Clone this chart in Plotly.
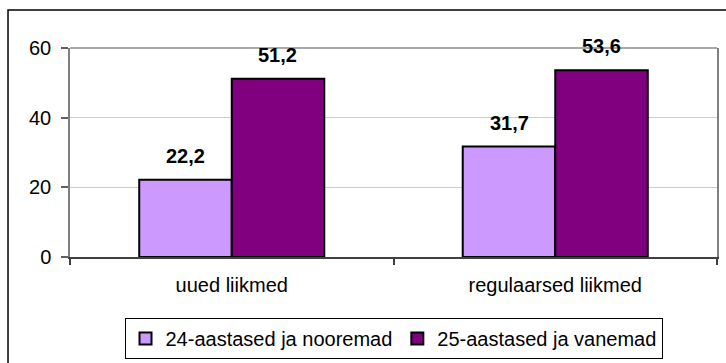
import plotly.graph_objects as go

# Data
categories = ["uued liikmed", "regulaarsed liikmed"]
series_names = ["24-aastased ja nooremad", "25-aastased ja vanemad"]
young_values = [22.2, 31.7]
older_values = [51.2, 53.6]
y_ticks = [0, 20, 40, 60]

colors = ["#CC99FF", "#800080"]
FONT = "Arial, 'Liberation Sans', sans-serif"


def fmt(v):
    return f"{v:.1f}".replace(".", ",")


fig = go.Figure()
for name, vals, col in zip(series_names, [young_values, older_values], colors):
    fig.add_trace(go.Bar(
        x=categories, y=vals, name=name,
        marker=dict(color=col, line=dict(color="black", width=2)),
    ))

# Value labels above each bar
bar_px = 92
for shift, vals in zip([-bar_px / 2, bar_px / 2], [young_values, older_values]):
    for cat, v in zip(categories, vals):
        fig.add_annotation(
            x=cat, y=v, xref="x", yref="y", text=f"<b>{fmt(v)}</b>",
            showarrow=False, xshift=shift, yshift=11, yanchor="bottom",
            font=dict(family=FONT, size=20, color="black"),
        )

# Plot area top border
fig.add_shape(type="line", xref="paper", yref="paper", x0=0, x1=1, y0=1, y1=1,
              line=dict(color="#8c8c8c", width=1.5))
# Outer chart frame
fig.add_shape(type="rect", xref="paper", yref="paper",
              x0=-0.0958, x1=1.2, y0=-0.8, y1=1.1818,
              line=dict(color="black", width=1.5), layer="below")

fig.update_layout(
    width=726, height=363,
    margin=dict(l=70, r=9, t=48, b=106, autoexpand=False),
    paper_bgcolor="white", plot_bgcolor="white",
    barmode="group", bargap=0.428, bargroupgap=0,
    font=dict(family=FONT, size=20, color="black"),
    showlegend=True,
    legend=dict(
        orientation="h", x=0.5, xanchor="center", y=-0.488, yanchor="bottom",
        bordercolor="black", borderwidth=1, bgcolor="white",
        font=dict(family=FONT, size=20, color="black"),
        itemwidth=30, tracegroupgap=0,
    ),
    xaxis=dict(
        automargin=False,
        showline=True, linecolor="#404040", linewidth=2,
        ticks="outside", ticklen=6, tickcolor="#404040", tickwidth=1.5,
        tickson="boundaries", ticklabelstandoff=9,
        showgrid=False,
    ),
    yaxis=dict(
        automargin=False,
        range=[0, 60], tickvals=y_ticks,
        showline=True, linecolor="#808080", linewidth=1.5, mirror=True,
        ticks="outside", ticklen=7, tickcolor="#606060", tickwidth=1.5,
        showgrid=True, gridcolor="#cccccc", gridwidth=1,
        zeroline=False, ticklabelstandoff=6,
    ),
)

fig.write_html("out.html")
